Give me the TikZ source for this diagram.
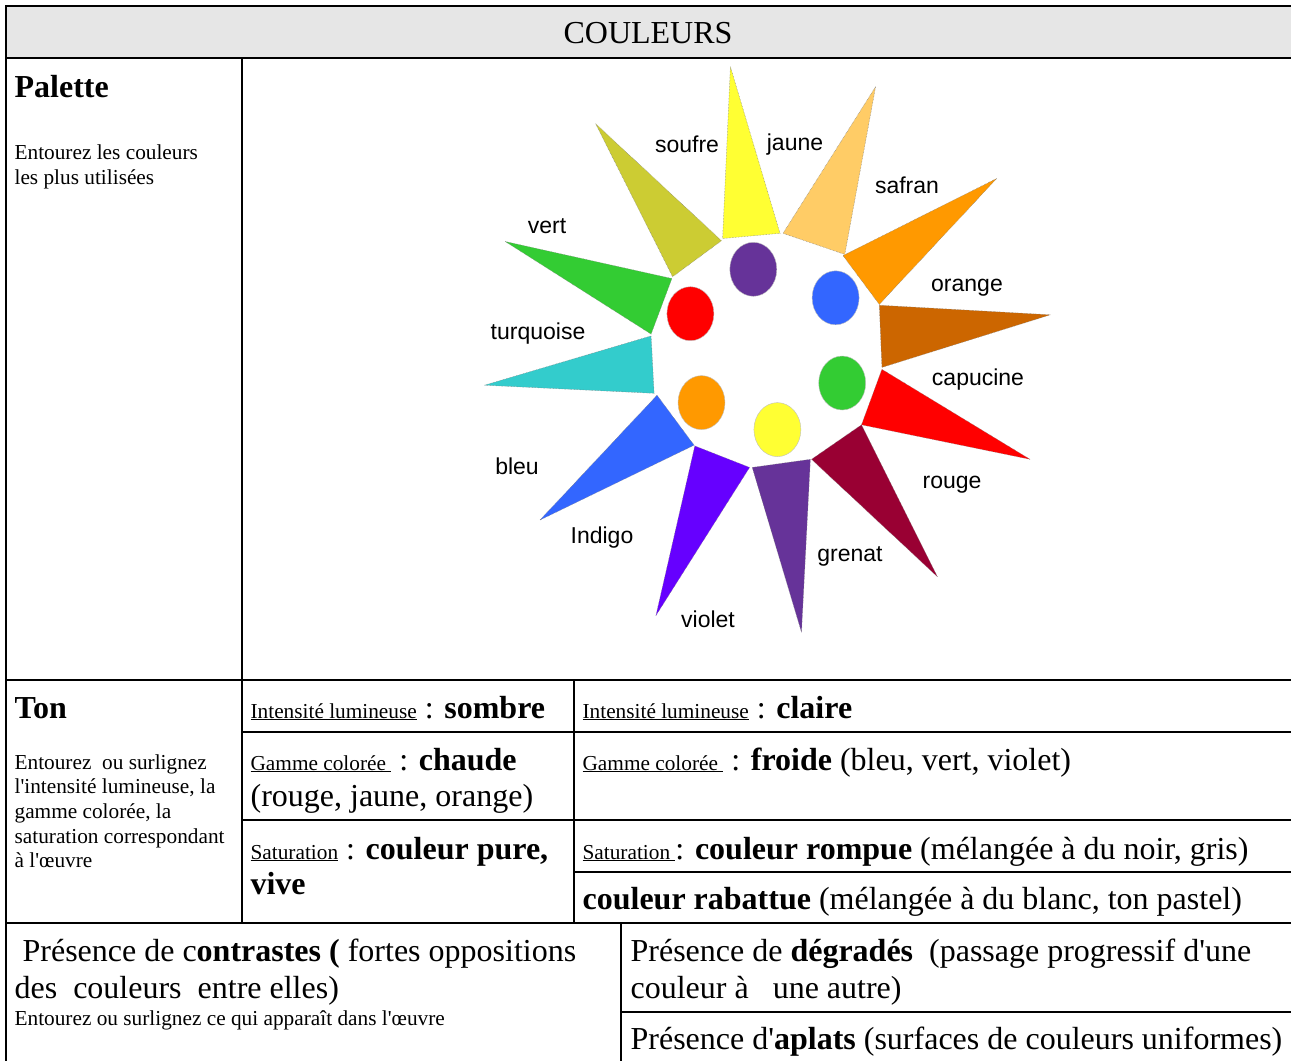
\documentclass[tikz,border=0pt]{standalone}
\usepackage{fontspec}
\usepackage{xcolor}
\setmainfont{Liberation Serif}
\newfontfamily\starfont{Liberation Sans}

\definecolor{entete}{HTML}{E6E6E6}
\definecolor{csoufre}{HTML}{CCCC33}
\definecolor{cjaune}{HTML}{FFFF33}
\definecolor{csafran}{HTML}{FFCC66}
\definecolor{corange}{HTML}{FF9900}
\definecolor{ccapucine}{HTML}{CC6600}
\definecolor{crouge}{HTML}{FF0000}
\definecolor{cgrenat}{HTML}{990033}
\definecolor{cpourpre}{HTML}{663399}
\definecolor{cviolet}{HTML}{6600FF}
\definecolor{cbleu}{HTML}{3366FF}
\definecolor{cturquoise}{HTML}{33CCCC}
\definecolor{cvert}{HTML}{33CC33}

\newcommand{\fsz}[1]{\fontsize{#1}{#1}\selectfont}
\newcommand{\petit}{\fsz{21.3}}
\newcommand{\grand}{\fsz{32}}
\newcommand{\apos}{\textquotesingle}

\tikzset{
  txt/.style = {anchor = base west, inner sep = 0pt},
  lbl/.style = {anchor = base, inner sep = 0pt, font = \starfont\fsz{23}},
  spike/.style = {draw = gray, line width = 0.5pt, densely dotted},
  dot/.style = {draw = gray!50, line width = 0.4pt}
}

\begin{document}
\begin{tikzpicture}[x = 1pt, y = -1pt, line width = 1.2pt]
\useasboundingbox (0, 0) rectangle (1291, 1061);
% header
\fill[entete] (6, 6) rectangle (1291, 58);
\node (titre) at (648, 33) {\grand COULEURS};
% table lines
\draw (1291, 6) -- (6, 6) -- (6, 1061);
\draw (6, 58) -- (1291, 58);
\draw (6, 680) -- (1291, 680);
\draw (242, 732) -- (1291, 732);
\draw (242, 820) -- (1291, 820);
\draw (574, 872) -- (1291, 872);
\draw (6, 923) -- (1291, 923);
\draw (621, 1012) -- (1291, 1012);
\draw (242, 58) -- (242, 923);
\draw (574, 680) -- (574, 923);
\draw (621, 923) -- (621, 1061);

% palette: spikes
\filldraw[spike, fill = csoufre] (595.6, 123.7) -- (672.6, 276.7) -- (721.5, 240.7) -- cycle;
\filldraw[spike, fill = cjaune] (730.4, 66.7) -- (722.6, 238.5) -- (780, 233.3) -- cycle;
\filldraw[spike, fill = csafran] (875.6, 86.7) -- (783, 233.3) -- (844.8, 254.4) -- cycle;
\filldraw[spike, fill = corange] (996.7, 178.5) -- (843, 255.6) -- (879.3, 304.4) -- cycle;
\filldraw[spike, fill = ccapucine] (1050.4, 314.8) -- (879.3, 305.2) -- (881.9, 367.4) -- cycle;
\filldraw[spike, fill = crouge] (1030, 459.3) -- (881.9, 369.3) -- (861.5, 424.8) -- cycle;
\filldraw[spike, fill = cgrenat] (937.4, 576.7) -- (861.5, 424.8) -- (811.5, 459.3) -- cycle;
\filldraw[spike, fill = cpourpre] (801.5, 632.2) -- (810.4, 459.3) -- (752.2, 467.4) -- cycle;
\filldraw[spike, fill = cviolet] (655.9, 615.6) -- (749.6, 467.4) -- (694.8, 445.9) -- cycle;
\filldraw[spike, fill = cbleu] (540, 520) -- (694.1, 445.2) -- (657, 395.2) -- cycle;
\filldraw[spike, fill = cturquoise] (484.4, 385.2) -- (654.1, 393.3) -- (651.1, 335.9) -- cycle;
\filldraw[spike, fill = cvert] (505.2, 241.5) -- (651.1, 334.1) -- (671.9, 278.5) -- cycle;
% palette: dots
\filldraw[dot, fill = cpourpre] (753.3, 269.3) ellipse [x radius = 23.5pt, y radius = 27pt];
\filldraw[dot, fill = cbleu] (835.6, 297.8) ellipse [x radius = 23.5pt, y radius = 27pt];
\filldraw[dot, fill = crouge] (690.4, 313.7) ellipse [x radius = 23.5pt, y radius = 27pt];
\filldraw[dot, fill = cvert] (842.2, 383) ellipse [x radius = 23.5pt, y radius = 27pt];
\filldraw[dot, fill = corange] (701.5, 402.6) ellipse [x radius = 23.5pt, y radius = 27pt];
\filldraw[dot, fill = cjaune] (777.4, 429.6) ellipse [x radius = 23.5pt, y radius = 27pt];
% palette: names
\node[lbl] (soufre) at (687, 152) {soufre};
\node[lbl] (jaune) at (795, 150) {jaune};
\node[lbl] (safran) at (907, 193) {safran};
\node[lbl] (orange) at (967, 291) {orange};
\node[lbl] (capucine) at (978, 385) {capucine};
\node[lbl] (rouge) at (952, 488) {rouge};
\node[lbl] (grenat) at (850, 561) {grenat};
\node[lbl] (violet) at (708, 627) {violet};
\node[lbl] (indigo) at (602, 543) {Indigo};
\node[lbl] (bleu) at (517, 474) {bleu};
\node[lbl] (turquoise) at (538, 339) {turquoise};
\node[lbl] (vert) at (547, 233) {vert};

% left column
\node[txt] (palette) at (14, 97) {\grand\textbf{Palette}};
\node[txt] (pal1) at (14, 159) {\petit Entourez les couleurs};
\node[txt] (pal2) at (14, 184) {\petit les plus utilisées};
\node[txt] (ton) at (14, 718) {\grand\textbf{Ton}};
\node[txt] (ton1) at (14, 769) {\petit Entourez~ ou surlignez};
\node[txt] (ton2) at (14, 793) {\petit l\apos intensité lumineuse, la};
\node[txt] (ton3) at (14, 818) {\petit gamme colorée, la};
\node[txt] (ton4) at (14, 843) {\petit saturation correspondant};
\node[txt] (ton5) at (14, 867) {\petit à l\apos œuvre};

% ton: middle column
\node[txt] (sombre) at (250, 718) {\petit\underline{Intensité lumineuse}\grand{} : \textbf{sombre}};
\node[txt] (chaude) at (250, 770) {\petit\underline{Gamme colorée\ }\grand{} : \textbf{chaude}};
\node[txt] (chaude2) at (250, 806) {\grand (rouge, jaune, orange)};
\node[txt] (pure) at (250, 859) {\petit\underline{Saturation}\grand{} : \textbf{couleur pure,}};
\node[txt] (pure2) at (250, 894) {\grand\textbf{vive}};
% ton: right column
\node[txt] (claire) at (582, 718) {\petit\underline{Intensité lumineuse}\grand{} : \textbf{claire}};
\node[txt] (froide) at (582, 770) {\petit\underline{Gamme colorée\ }\grand{} : \textbf{froide} (bleu, vert, violet)};
\node[txt] (rompue) at (582, 859) {\petit\underline{Saturation\ }\grand: \textbf{couleur rompue} (mélangée à du noir, gris)};
\node[txt] (rabattue) at (582, 909) {\grand\textbf{couleur rabattue} (mélangée à du blanc, ton pastel)};

% bottom row
\node[txt] (contr1) at (22, 961) {\grand Présence de c\textbf{ontrastes (} fortes oppositions};
\node[txt] (contr2) at (14, 998) {\grand des~ couleurs~ entre elles)};
\node[txt] (contr3) at (14, 1025) {\petit Entourez ou surlignez ce qui apparaît dans l\apos œuvre};
\node[txt] (degr1) at (630, 961) {\grand Présence de \textbf{dégradés}~ (passage progressif d\apos une};
\node[txt] (degr2) at (630, 998) {\grand couleur à~~ une autre)};
\node[txt] (aplats) at (630, 1049) {\grand Présence d\apos\textbf{aplats} (surfaces de couleurs uniformes)};
\end{tikzpicture}
\end{document}
